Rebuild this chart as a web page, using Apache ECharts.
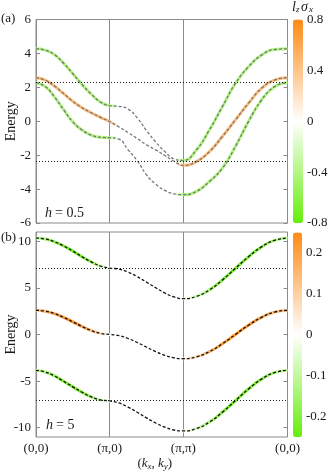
<!DOCTYPE html>
<html>
<head>
<meta charset="utf-8">
<script src="https://cdn.jsdelivr.net/npm/echarts@6/dist/echarts.min.js"></script>
<style>
  html, body { margin: 0; padding: 0; background: #fff; }
  #chart { width: 332px; height: 474px; }
</style>
</head>
<body>
<div id="chart"></div>
<script>
// path length along G(0,0) -> X(pi,0) -> M(pi,pi) -> G(0,0), in units of pi
var kPath = [0, 0.125, 0.25, 0.375, 0.5, 0.625, 0.75, 0.875, 1,
  1.125, 1.25, 1.375, 1.5, 1.625, 1.75, 1.875, 2,
  2.177, 2.354, 2.530, 2.707, 2.884, 3.061, 3.237, 3.414];
var kTicks = [0, 1, 2, 3.414];
var kLabels = ['(0,0)', '(π,0)', '(π,π)', '(0,0)'];

// (a) h = 0.5
var energyA1 = [4.27, 4.19, 3.93, 3.42, 2.8, 2.17, 1.6, 1.13, 0.92,
  0.88, 0.72, 0.2, -0.55, -1.22, -1.79, -2.22, -2.31,
  -1.69, -0.51, 0.86, 2.23, 3.21, 3.9, 4.23, 4.27];
var energyA2 = [2.57, 2.43, 2.08, 1.63, 1.17, 0.8, 0.5, 0.23, -0.02,
  -0.33, -0.67, -1.02, -1.39, -1.69, -2.02, -2.36, -2.6,
  -2.38, -1.79, -0.9, 0.08, 1.06, 1.94, 2.43, 2.57];
var energyA3 = [2.27, 2.05, 1.44, 0.68, -0.04, -0.52, -0.82, -0.95, -0.97,
  -1.05, -1.69, -2.33, -3.16, -3.71, -4.08, -4.28, -4.33,
  -4.14, -3.55, -2.77, -1.49, -0.02, 1.25, 2.04, 2.27];
var lzA1 = [-0.42, -0.42, -0.42, -0.42, -0.42, -0.42, -0.42, -0.42, -0.42,
  0, 0, 0, 0, 0, 0, 0, -0.42,
  -0.42, -0.42, -0.42, -0.42, -0.42, -0.42, -0.42, -0.42];
var lzA2 = [0.45, 0.45, 0.45, 0.45, 0.45, 0.45, 0.45, 0.45, 0.45,
  0, 0, 0, 0, 0, 0, 0, 0.45,
  0.45, 0.45, 0.45, 0.45, 0.45, 0.45, 0.45, 0.45];
var lzA3 = [-0.42, -0.42, -0.42, -0.42, -0.42, -0.42, -0.42, -0.42, -0.42,
  0, 0, 0, 0, 0, 0, 0, -0.42,
  -0.42, -0.42, -0.42, -0.42, -0.42, -0.42, -0.42, -0.42];
var levelsA = [2.3, -2.35];
var ticksA = [-6, -4, -2, 0, 2, 4, 6];
var cbarTicksA = [-0.8, -0.4, 0, 0.4, 0.8];

// (b) h = 5
var energyB1 = [10.35, 10.25, 9.95, 9.5, 8.95, 8.35, 7.8, 7.35, 7.13,
  7.02, 6.7, 6.2, 5.62, 5.02, 4.45, 4.03, 3.84,
  4.09, 4.79, 5.85, 7.1, 8.34, 9.4, 10.1, 10.35];
var energyB2 = [2.6, 2.5, 2.24, 1.84, 1.36, 0.86, 0.43, 0.12, 0,
  -0.12, -0.43, -0.86, -1.36, -1.84, -2.24, -2.5, -2.6,
  -2.4, -1.84, -1.0, 0, 1.0, 1.84, 2.4, 2.6];
var energyB3 = [-3.84, -4.03, -4.45, -5.02, -5.62, -6.2, -6.7, -7.02, -7.13,
  -7.35, -7.8, -8.35, -8.95, -9.5, -9.95, -10.25, -10.35,
  -10.1, -9.4, -8.34, -7.1, -5.85, -4.79, -4.09, -3.84];
var lzB1 = [-0.08, -0.12, -0.17, -0.2, -0.22, -0.21, -0.17, -0.09, 0,
  0, 0, 0, 0, 0, 0, 0, 0,
  -0.08, -0.15, -0.2, -0.22, -0.21, -0.18, -0.12, -0.08];
var lzB2 = [0.1, 0.14, 0.18, 0.21, 0.22, 0.2, 0.15, 0.08, 0,
  0, 0, 0, 0, 0, 0, 0, 0,
  0.08, 0.15, 0.2, 0.22, 0.21, 0.18, 0.14, 0.1];
var lzB3 = [-0.08, -0.12, -0.17, -0.2, -0.21, -0.2, -0.15, -0.08, 0,
  0, 0, 0, 0, 0, 0, 0, 0,
  -0.06, -0.14, -0.2, -0.22, -0.21, -0.18, -0.12, -0.08];
var levelsB = [7.15, -7.1];
var ticksB = [-10, -5, 0, 5, 10];
var cbarTicksB = [-0.2, -0.1, 0, 0.1, 0.2];

var serif = '"Liberation Serif", "DejaVu Serif", serif';
var ink = '#1a1a1a';
var frame = '#8a8a8a';
var visColors = ['#66ee0a', '#ffffff', '#ff8a14'];

function lzGradient(lz, lim) {
  var kMax = kPath[kPath.length - 1];
  return new echarts.graphic.LinearGradient(0, 0, 1, 0, kPath.map(function (k, i) {
    return { offset: k / kMax, color: echarts.color.lerp((lz[i] + lim) / (2 * lim), visColors) };
  }));
}

function bandSeries(xi, yi, energy, lz, lim, dashColor, levels) {
  var pts = kPath.map(function (k, i) { return [k, energy[i]]; });
  var under = {
    type: 'line', xAxisIndex: xi, yAxisIndex: yi, data: pts, smooth: true,
    symbol: 'none', silent: true, z: 2,
    lineStyle: { width: 3, color: lzGradient(lz, lim) }
  };
  var over = {
    type: 'line', xAxisIndex: xi, yAxisIndex: yi, data: pts, smooth: true,
    symbol: 'none', silent: true, z: 3,
    lineStyle: { width: 1.3, color: dashColor, type: [3, 2] }
  };
  if (levels) {
    over.markLine = {
      silent: true, symbol: 'none', label: { show: false },
      lineStyle: { type: [1, 2], width: 1, color: ink },
      data: levels.map(function (v) { return { yAxis: v }; })
    };
  }
  return [under, over];
}

function kAxis(gridIndex, showLabels) {
  return {
    type: 'value', gridIndex: gridIndex, min: 0, max: kPath[kPath.length - 1],
    axisLine: { show: false },
    axisTick: { show: false, customValues: kTicks },
    axisLabel: {
      show: showLabels, customValues: kTicks, margin: 5,
      fontFamily: serif, fontSize: 13, color: ink,
      formatter: function (v) {
        for (var i = 0; i < kTicks.length; i++) if (Math.abs(kTicks[i] - v) < 1e-6) return kLabels[i];
        return '';
      }
    },
    splitLine: { show: true, lineStyle: { color: frame, width: 1 } },
    name: showLabels ? '({i|k}{s|x}, {i|k}{s|y})' : '',
    nameLocation: 'middle', nameGap: 19, nameMoveOverlap: false,
    nameTextStyle: {
      fontFamily: serif, fontSize: 13, color: ink, padding: [0, 14, 0, 0],
      rich: {
        i: { fontFamily: serif, fontSize: 13, fontStyle: 'italic', color: ink },
        s: { fontFamily: serif, fontSize: 9, fontStyle: 'italic', color: ink, padding: [6, 0, 0, 0] }
      }
    }
  };
}

function energyAxis(gridIndex, min, max, ticks, right) {
  return {
    type: 'value', gridIndex: gridIndex, min: min, max: max, position: right ? 'right' : 'left',
    axisLine: { show: false },
    axisTick: { show: true, inside: true, length: 4, customValues: ticks, lineStyle: { color: frame } },
    axisLabel: { show: !right, customValues: ticks, margin: 5, fontFamily: serif, fontSize: 13, color: ink },
    splitLine: { show: false },
    name: right ? '' : 'Energy', nameLocation: 'middle', nameGap: 18, nameRotate: 90,
    nameMoveOverlap: false,
    nameTextStyle: { fontFamily: serif, fontSize: 14, color: ink }
  };
}

function cbarAxis(gridIndex, min, max, ticks) {
  return {
    type: 'value', gridIndex: gridIndex, min: min, max: max, position: 'right',
    axisLine: { show: false }, axisTick: { show: false, customValues: ticks },
    axisLabel: { customValues: ticks, margin: 4, fontFamily: serif, fontSize: 13, color: ink },
    splitLine: { show: false }
  };
}

function plainText(x, y, text, size, italic) {
  return {
    type: 'text', x: x, y: y, z: 10,
    style: { text: text, fontFamily: serif, fontSize: size, fontStyle: italic ? 'italic' : 'normal', fill: ink }
  };
}

var chart = echarts.init(document.getElementById('chart'), null, { renderer: 'canvas' });

var series = []
  .concat(bandSeries(0, 0, energyA1, lzA1, 0.8, '#777777', levelsA))
  .concat(bandSeries(0, 0, energyA2, lzA2, 0.8, '#777777'))
  .concat(bandSeries(0, 0, energyA3, lzA3, 0.8, '#777777'))
  .concat(bandSeries(1, 2, energyB1, lzB1, 0.25, '#111111', levelsB))
  .concat(bandSeries(1, 2, energyB2, lzB2, 0.25, '#111111'))
  .concat(bandSeries(1, 2, energyB3, lzB3, 0.25, '#111111'));

chart.setOption({
  animation: false,
  backgroundColor: '#ffffff',
  grid: [
    { left: 36, top: 19.5, width: 251.5, height: 203.5, show: true, borderColor: frame, borderWidth: 1,
      containLabel: false, outerBoundsMode: 'none' },
    { left: 36, top: 232, width: 251.5, height: 205, show: true, borderColor: frame, borderWidth: 1,
      containLabel: false, outerBoundsMode: 'none' },
    { left: 293, top: 19.5, width: 10, height: 203.5, containLabel: false, outerBoundsMode: 'none' },
    { left: 293, top: 232.5, width: 9, height: 204.5, containLabel: false, outerBoundsMode: 'none' }
  ],
  xAxis: [
    kAxis(0, false),
    kAxis(1, true),
    { type: 'value', gridIndex: 2, show: false },
    { type: 'value', gridIndex: 3, show: false }
  ],
  yAxis: [
    energyAxis(0, -6, 6, ticksA, false),
    energyAxis(0, -6, 6, ticksA, true),
    energyAxis(1, -11, 11, ticksB, false),
    energyAxis(1, -11, 11, ticksB, true),
    cbarAxis(2, -0.8, 0.8, cbarTicksA),
    cbarAxis(3, -0.25, 0.25, cbarTicksB)
  ],
  visualMap: [
    { type: 'continuous', seriesIndex: [], min: -0.8, max: 0.8, calculable: false,
      left: 293, top: 19.5, itemWidth: 10, itemHeight: 203.5, padding: 0,
      inRange: { color: visColors } },
    { type: 'continuous', seriesIndex: [], min: -0.25, max: 0.25, calculable: false,
      left: 293, top: 232.5, itemWidth: 9, itemHeight: 204.5, padding: 0,
      inRange: { color: visColors } }
  ],
  graphic: [
    plainText(1, 12, '(a)', 13, false),
    plainText(1, 231, '(b)', 13, false),
    plainText(45, 206, 'h', 14, true),
    plainText(55, 206, '= 0.5', 14, false),
    plainText(46, 418, 'h', 14, true),
    plainText(56, 418, '= 5', 14, false),
    plainText(292, 0, 'l', 14, true),
    plainText(296, 5, 'z', 9, true),
    plainText(301, 0, 'σ', 14, true),
    plainText(309, 5, 'x', 9, true)
  ],
  series: series
});
</script>
</body>
</html>
